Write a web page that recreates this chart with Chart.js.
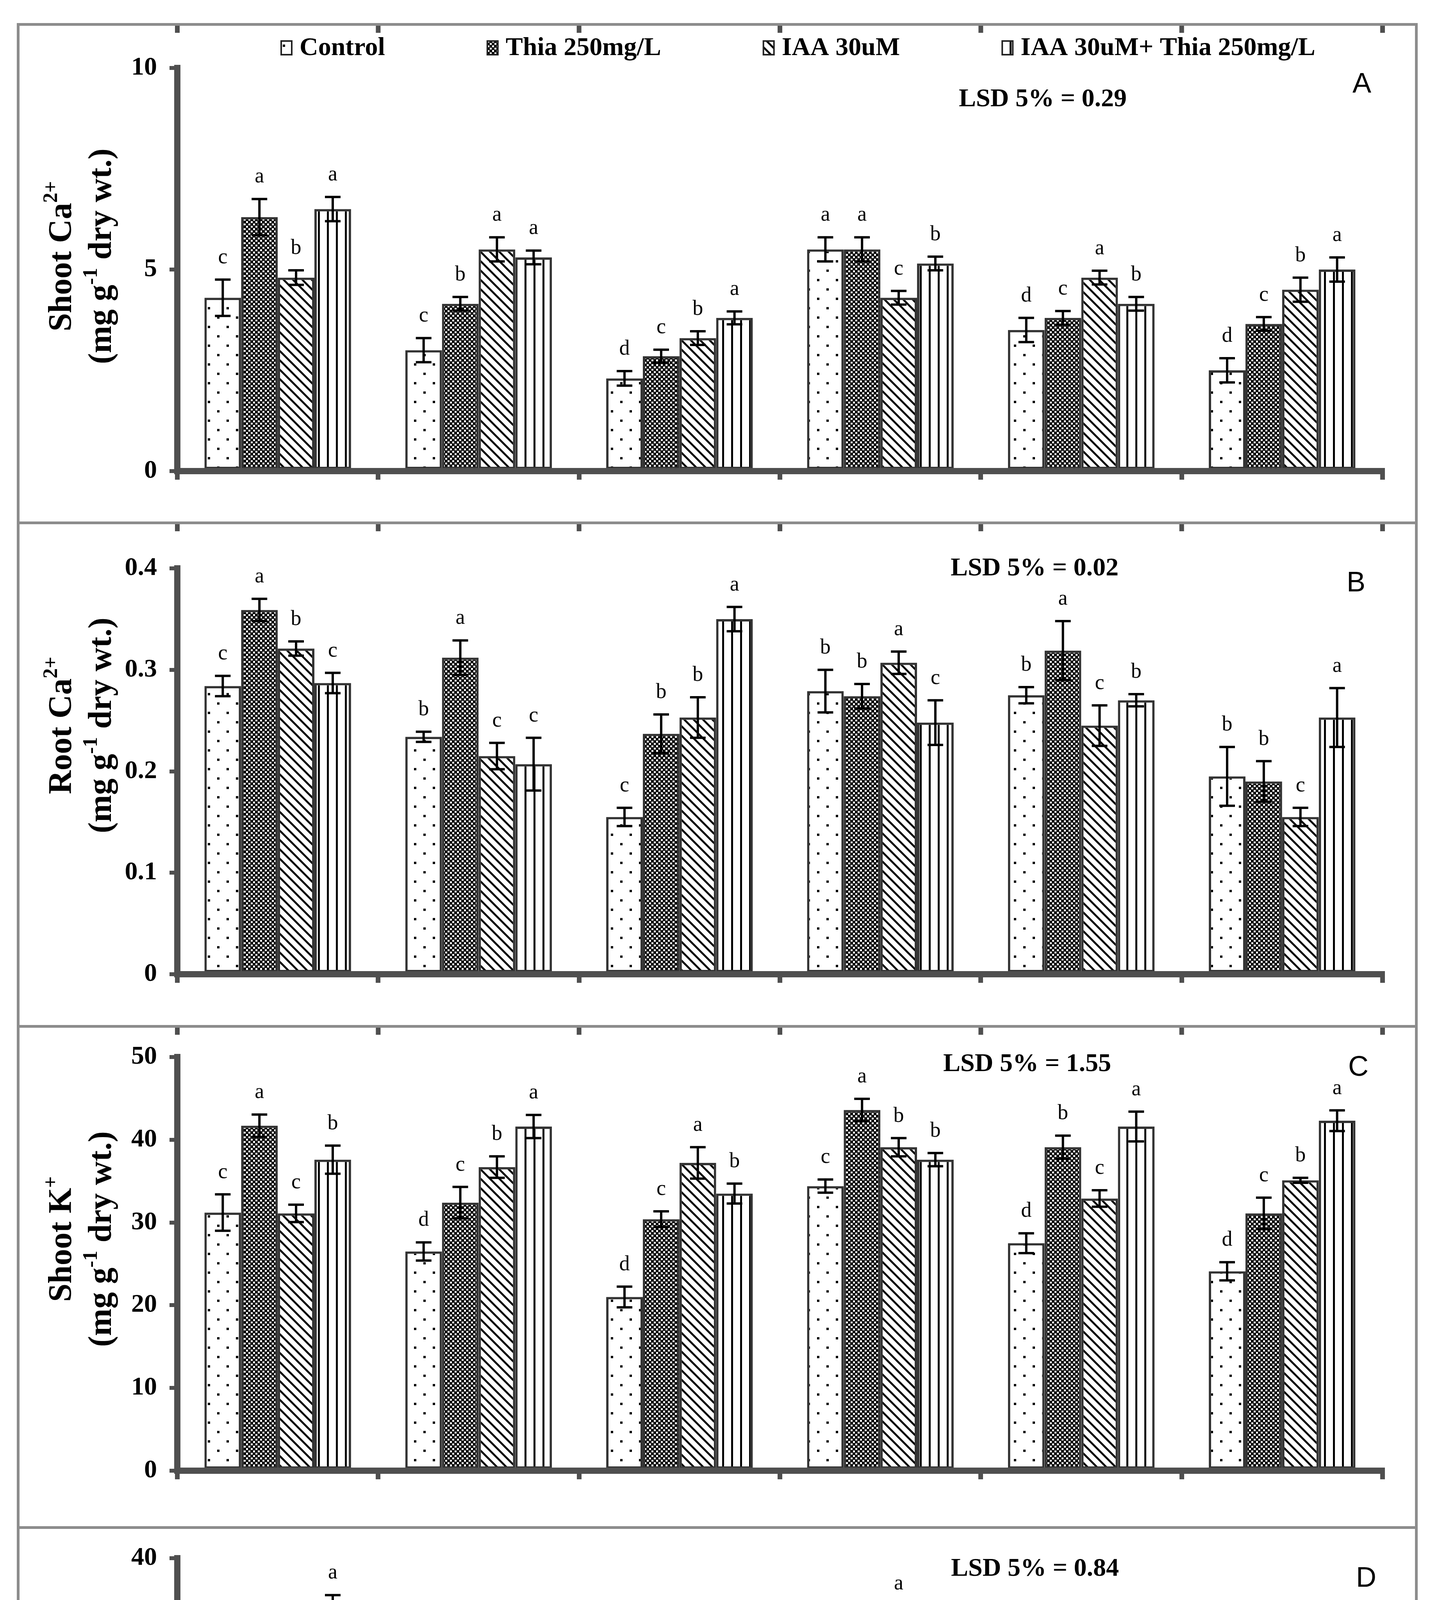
<!DOCTYPE html>
<html>
<head>
<meta charset="utf-8">
<script src="https://cdn.jsdelivr.net/npm/chart.js@4.4.1/dist/chart.umd.min.js"></script>
<style>
  html, body { margin: 0; padding: 0; background: #fff; }
  body { width: 3705px; height: 5258px; position: relative; overflow: hidden; }
  #page { position: absolute; left: 0; top: 0; width: 3705px; height: 5258px; }
  .frame { position: absolute; border: 7px solid #8c8c8c; box-sizing: border-box; pointer-events: none; }
  .rule { position: absolute; left: 43px; width: 3587px; height: 7px; background: #8c8c8c; pointer-events: none; }
  canvas { display: block; }
</style>
</head>
<body>
<div id="page"></div>
<script>
// Categories
const groups = ["As 0mg/kg", "As 50mg/kg", "As 100mg/kg", "As 0mg/kg", "As 50mg/kg", "As 100mg/kg"];
const varieties = ["Akbar", "Pearl"];
const treatments = ["Control", "Thia 250mg/L", "IAA 30uM", "IAA 30uM+ Thia 250mg/L"];

// A - Shoot Ca (rows: Control, Thia, IAA, IAA+Thia)
const shootCaMeans = [
    [4.3, 3.0, 2.3, 5.5, 3.5, 2.5],
    [6.3, 4.15, 2.85, 5.5, 3.8, 3.65],
    [4.8, 5.5, 3.3, 4.3, 4.8, 4.5],
    [6.5, 5.3, 3.8, 5.15, 4.15, 5.0]
];
const shootCaErrors = [
    [0.45, 0.3, 0.18, 0.3, 0.3, 0.3],
    [0.45, 0.17, 0.16, 0.3, 0.17, 0.17],
    [0.18, 0.3, 0.17, 0.17, 0.17, 0.3],
    [0.3, 0.17, 0.16, 0.17, 0.17, 0.3]
];
const shootCaLetters = [
    ["c", "c", "d", "a", "d", "d"],
    ["a", "b", "c", "a", "c", "c"],
    ["b", "a", "b", "c", "a", "b"],
    ["a", "a", "a", "b", "b", "a"]
];

// B - Root Ca
const rootCaMeans = [
    [0.284, 0.234, 0.155, 0.279, 0.275, 0.195],
    [0.359, 0.312, 0.237, 0.274, 0.319, 0.19],
    [0.321, 0.215, 0.253, 0.307, 0.245, 0.155],
    [0.287, 0.207, 0.35, 0.248, 0.27, 0.253]
];
const rootCaErrors = [
    [0.01, 0.005, 0.009, 0.021, 0.008, 0.029],
    [0.011, 0.017, 0.019, 0.012, 0.029, 0.02],
    [0.007, 0.013, 0.02, 0.011, 0.02, 0.009],
    [0.01, 0.026, 0.012, 0.022, 0.006, 0.029]
];
const rootCaLetters = [
    ["c", "b", "c", "b", "b", "b"],
    ["a", "a", "b", "b", "a", "b"],
    ["b", "c", "b", "a", "c", "c"],
    ["c", "c", "a", "c", "b", "a"]
];

// C - Shoot K
const shootKMeans = [
    [31.2, 26.5, 21.0, 34.4, 27.5, 24.1],
    [41.7, 32.4, 30.4, 43.6, 39.1, 31.1],
    [31.1, 36.7, 37.2, 39.1, 32.9, 35.1],
    [37.6, 41.6, 33.5, 37.6, 41.6, 42.3]
];
const shootKErrors = [
    [2.2, 1.1, 1.25, 0.8, 1.2, 1.1],
    [1.35, 1.9, 0.95, 1.35, 1.4, 1.9],
    [1.05, 1.3, 1.9, 1.1, 1.0, 0.3],
    [1.7, 1.4, 1.2, 0.8, 1.8, 1.25]
];
const shootKLetters = [
    ["c", "d", "d", "c", "d", "d"],
    ["a", "c", "c", "a", "b", "c"],
    ["c", "b", "a", "b", "c", "b"],
    ["b", "a", "b", "b", "a", "a"]
];

// D - Root K
const rootKMeans = [
    [20.2, 16.5, 10.8, 22.5, 15.5, 12.1],
    [25.2, 22.0, 13.1, 28.5, 19.8, 19.6],
    [30.2, 24.3, 19.7, 34.2, 22.9, 24.0],
    [35.5, 23.8, 24.0, 30.8, 25.4, 28.1]
];
const rootKErrors = [
    [0.5, 0.6, 0.8, 0.55, 0.6, 0.8],
    [0.9, 0.55, 0.4, 1.25, 0.9, 0.45],
    [0.45, 0.6, 0.6, 0.75, 0.6, 0.75],
    [0.6, 1.05, 0.6, 0.7, 0.6, 1.35]
];
const rootKLetters = [
    ["d", "c", "d", "d", "d", "d"],
    ["c", "b", "c", "c", "c", "c"],
    ["b", "a", "b", "a", "b", "b"],
    ["a", "a", "a", "b", "a", "a"]
];

// Axis ranges, titles and notes
const yMax = [10, 0.4, 50, 40];
const yStep = [5, 0.1, 10, 10];
const lsdText = ["LSD 5% = 0.29", "LSD 5% = 0.02", "LSD 5% = 1.55", "LSD 5% = 0.84"];
const panelTags = ["A", "B", "C", "D"];
const yTitles = [
    [[{ t: "Shoot Ca" }, { t: "2+", sup: true }], [{ t: "(mg g" }, { t: "-1", sup: true }, { t: " dry wt.)" }]],
    [[{ t: "Root Ca" }, { t: "2+", sup: true }], [{ t: "(mg g" }, { t: "-1", sup: true }, { t: " dry wt.)" }]],
    [[{ t: "Shoot K" }, { t: "+", sup: true }], [{ t: "(mg g" }, { t: "-1", sup: true }, { t: " dry wt.)" }]],
    [[{ t: "Root K" }, { t: "+", sup: true }], [{ t: "(mg g" }, { t: "-1", sup: true }, { t: " dry wt.)" }]]
];

// Page layout (pixels)
const panelBoxes = [
    { top: 62, h: 1276, plotTop: 112, zero: 1144, titleY: 594, lsdX: 2670, lsdY: 193, tagX: 3487, tagY: 155 },
    { top: 1338, h: 1289, plotTop: 117, zero: 1156, titleY: 519, lsdX: 2649, lsdY: 118, tagX: 3472, tagY: 156 },
    { top: 2627, h: 1283, plotTop: 79, zero: 1138, titleY: 545, lsdX: 2630, lsdY: 98, tagX: 3478, tagY: 107 },
    { top: 3910, h: 1348, plotTop: 79, zero: 1048, titleY: 596, lsdX: 2650, lsdY: 107, tagX: 3498, tagY: 132 }
];

const serif = '"Liberation Serif", "Times New Roman", serif';
const axisGray = "#4f4f4f";
const page = document.getElementById("page");

// bar fill patterns
function makePattern(kind) {
    const c = document.createElement("canvas");
    const g = c.getContext("2d");
    if (kind === "dots") {
        c.width = 48; c.height = 48;
        g.fillStyle = "#fff"; g.fillRect(0, 0, 48, 48);
        g.fillStyle = "#000";
        g.fillRect(4, 4, 6, 6);
        g.fillRect(28, 28, 6, 6);
    } else if (kind === "checker") {
        c.width = 12; c.height = 12;
        g.fillStyle = "#000"; g.fillRect(0, 0, 12, 12);
        g.fillStyle = "#fff";
        g.fillRect(6, 0, 5, 5);
        g.fillRect(0, 6, 5, 5);
    } else if (kind === "diag") {
        c.width = 24; c.height = 24;
        g.fillStyle = "#fff"; g.fillRect(0, 0, 24, 24);
        g.strokeStyle = "#000"; g.lineWidth = 5;
        [-24, 0, 24].forEach(k => {
            g.beginPath(); g.moveTo(k - 3, -3); g.lineTo(k + 27, 27); g.stroke();
        });
    } else {
        c.width = 23; c.height = 4;
        g.fillStyle = "#fff"; g.fillRect(0, 0, 23, 4);
        g.fillStyle = "#000"; g.fillRect(9, 0, 5, 4);
    }
    return g.createPattern(c, "repeat");
}
const patterns = [makePattern("dots"), makePattern("checker"), makePattern("diag"), makePattern("vert")];

// rotated axis title with superscripts
function drawRich(ctx, runs, size, cx, cy) {
    ctx.save();
    ctx.translate(cx, cy);
    ctx.rotate(-Math.PI / 2);
    ctx.textBaseline = "middle";
    ctx.textAlign = "left";
    ctx.fillStyle = "#000";
    const fontFor = r => "bold " + (r.sup ? Math.round(size * 0.62) : size) + "px " + serif;
    let total = 0;
    runs.forEach(r => { ctx.font = fontFor(r); total += ctx.measureText(r.t).width; });
    let x = -total / 2;
    runs.forEach(r => {
        ctx.font = fontFor(r);
        ctx.fillText(r.t, x, r.sup ? -size * 0.33 : 0);
        x += ctx.measureText(r.t).width;
    });
    ctx.restore();
}

function buildPanel(idx, means, errors, letters) {
    const box = panelBoxes[idx];
    const isLast = idx === 3;
    const xH = isLast ? 260 : 20;

    const wrap = document.createElement("div");
    wrap.style.cssText = "position:absolute;left:0;top:" + box.top + "px;width:3705px;height:" + box.h + "px;";
    const cv = document.createElement("canvas");
    wrap.appendChild(cv);
    page.appendChild(wrap);

    const datasets = treatments.map((t, i) => ({
        label: t,
        data: means[i],
        backgroundColor: patterns[i],
        borderColor: "#333",
        borderWidth: 6,
        borderSkipped: false,
        categoryPercentage: 0.73,
        barPercentage: 1.0
    }));

    const overlay = {
        id: "overlay" + idx,
        afterDatasetsDraw(chart) {
            const ctx = chart.ctx;
            const y = chart.scales.y;
            ctx.save();
            chart.data.datasets.forEach((ds, i) => {
                const meta = chart.getDatasetMeta(i);
                meta.data.forEach((bar, j) => {
                    const v = ds.data[j];
                    const e = errors[i][j];
                    const yTop = y.getPixelForValue(v + e);
                    const yBot = y.getPixelForValue(v - e);
                    ctx.strokeStyle = "#000";
                    ctx.lineWidth = 6;
                    ctx.beginPath();
                    ctx.moveTo(bar.x, yTop); ctx.lineTo(bar.x, yBot);
                    ctx.moveTo(bar.x - 20, yTop); ctx.lineTo(bar.x + 20, yTop);
                    ctx.moveTo(bar.x - 20, yBot); ctx.lineTo(bar.x + 20, yBot);
                    ctx.stroke();
                    ctx.fillStyle = "#000";
                    ctx.font = "54px " + serif;
                    ctx.textAlign = "center";
                    ctx.textBaseline = "alphabetic";
                    ctx.fillText(letters[i][j], bar.x, yTop - 42);
                });
            });
            ctx.restore();
        },
        afterDraw(chart) {
            const ctx = chart.ctx;
            const x = chart.scales.x;
            const area = chart.chartArea;
            const catW = (x.right - x.left) / groups.length;
            ctx.save();

            // axis title
            drawRich(ctx, yTitles[idx][0], 84, 160, box.titleY);
            drawRich(ctx, yTitles[idx][1], 84, 262, box.titleY);

            // LSD note and panel tag
            ctx.fillStyle = "#000";
            ctx.textAlign = "center";
            ctx.textBaseline = "middle";
            ctx.font = "bold 66px " + serif;
            ctx.fillText(lsdText[idx], box.lsdX, box.lsdY);
            ctx.font = '72px "Liberation Sans", Arial, sans-serif';
            ctx.fillText(panelTags[idx], box.tagX, box.tagY);

            // short marks hanging from the top border
            if (!isLast) {
                ctx.fillStyle = axisGray;
                for (let k = 0; k <= groups.length; k++) {
                    ctx.fillRect(x.left + k * catW - 6, 3, 12, 19);
                }
            }

            if (idx === 0) {
                // legend
                ctx.font = "bold 66px " + serif;
                ctx.textAlign = "left";
                let lx = 720;
                const ly = 60;
                chart.data.datasets.forEach(ds => {
                    ctx.fillStyle = ds.backgroundColor;
                    ctx.fillRect(lx, ly - 17, 27, 35);
                    ctx.strokeStyle = "#222";
                    ctx.lineWidth = 4;
                    ctx.strokeRect(lx, ly - 17, 27, 35);
                    ctx.fillStyle = "#000";
                    ctx.fillText(ds.label, lx + 47, ly + 2);
                    lx += 47 + ctx.measureText(ds.label).width + 262;
                });
            }

            if (isLast) {
                // variety separators and names
                ctx.strokeStyle = axisGray;
                ctx.lineWidth = 16;
                [0, 3, 6].forEach(k => {
                    const px = x.left + k * catW;
                    ctx.beginPath();
                    ctx.moveTo(px, area.bottom);
                    ctx.lineTo(px, 1275);
                    ctx.stroke();
                });
                ctx.fillStyle = "#000";
                ctx.font = "bold 66px " + serif;
                ctx.textAlign = "center";
                varieties.forEach((v, k) => {
                    ctx.fillText(v, x.getPixelForValue(1 + 3 * k), 1235);
                });
            }
            ctx.restore();
        }
    };

    new Chart(cv, {
        type: "bar",
        data: { labels: groups, datasets },
        options: {
            responsive: true,
            maintainAspectRatio: false,
            animation: false,
            devicePixelRatio: 1,
            layout: {
                padding: { left: 304, right: 165, top: box.plotTop, bottom: box.h - box.zero - xH }
            },
            plugins: { legend: { display: false }, tooltip: { enabled: false }, title: { display: false } },
            scales: {
                x: {
                    offset: true,
                    grid: {
                        offset: true, drawOnChartArea: false, drawTicks: true,
                        tickLength: isLast ? 115 : 22, lineWidth: isLast ? 16 : 12, color: axisGray
                    },
                    border: { display: true, color: axisGray, width: 16, z: 1 },
                    ticks: {
                        display: isLast, color: "#000", autoSkip: false, maxRotation: 0,
                        padding: -74, font: { family: serif, size: 66, weight: "bold" }
                    },
                    afterFit: s => { s.height = xH; }
                },
                y: {
                    min: 0,
                    max: yMax[idx],
                    ticks: {
                        stepSize: yStep[idx], color: "#000", padding: 32,
                        font: { family: serif, size: 66, weight: "bold" }
                    },
                    grid: { drawOnChartArea: false, drawTicks: true, tickLength: 20, lineWidth: 10, color: axisGray },
                    border: { display: true, color: axisGray, width: 16, z: 1 },
                    afterFit: s => { s.width = 150; }
                }
            }
        },
        plugins: [overlay]
    });
}

buildPanel(0, shootCaMeans, shootCaErrors, shootCaLetters);
buildPanel(1, rootCaMeans, rootCaErrors, rootCaLetters);
buildPanel(2, shootKMeans, shootKErrors, shootKLetters);
buildPanel(3, rootKMeans, rootKErrors, rootKLetters);

// frame around the four panels
[1338, 2627, 3910].forEach(y => {
    const r = document.createElement("div");
    r.className = "rule";
    r.style.top = (y - 3) + "px";
    page.appendChild(r);
});
const frame = document.createElement("div");
frame.className = "frame";
frame.style.cssText = "left:43px;top:59px;width:3587px;height:5144px;";
page.appendChild(frame);
</script>
</body>
</html>
